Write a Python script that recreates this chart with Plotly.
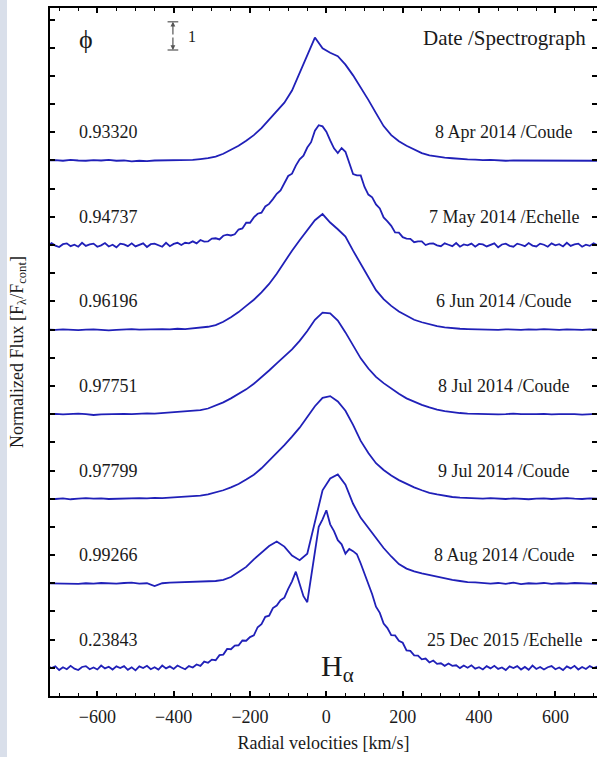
import plotly.graph_objects as go

# ---------------- data ----------------
V_COUDE = list(range(-730, 711, 20))     # velocity grid of the Coude spectra [km/s]
V_ECHELLE = list(range(-740, 721, 10))   # velocity grid of the Echelle spectra [km/s]

PHASES = ["0.93320", "0.94737", "0.96196", "0.97751", "0.97799", "0.99266", "0.23843"]
DATES = ["8 Apr 2014 /Coude", "7 May 2014 /Echelle", "6 Jun 2014 /Coude",
         "8 Jul 2014 /Coude", "9 Jul 2014 /Coude", "8 Aug 2014 /Coude",
         "25 Dec 2015 /Echelle"]
OFFSETS = [18, 15, 12, 9, 6, 3, 0]

FLUX_APR08 = [
    1.00, 1.01, 0.99, 1.02, 1.00, 0.99, 1.01, 1.00, 1.02, 0.99, 1.00, 0.97, 0.99, 0.98, 1.00, 1.00,
    1.01, 1.01, 1.02, 1.02, 1.05,
    1.08, 1.14, 1.24, 1.38, 1.52, 1.70, 1.90, 2.15, 2.45, 2.72, 3.05, 3.48, 4.12, 4.78, 5.36, 4.98,
    4.82, 4.70, 4.40, 4.02, 3.60, 3.15, 2.68, 2.22, 1.90, 1.68, 1.52, 1.38, 1.26, 1.18, 1.13, 1.10,
    1.08, 1.05, 1.04, 1.03, 1.01, 1.02, 1.00, 0.99, 1.00, 1.00, 1.01, 0.99, 1.00, 1.01, 0.99, 1.00,
    1.01, 0.99, 1.00, 0.99]

FLUX_MAY07 = [
    1.04, 0.95, 1.07, 0.98, 0.93, 1.03, 1.06, 0.96, 1.01, 0.94, 1.08, 0.97, 1.02, 1.05, 0.94, 0.99,
    1.07, 0.95, 1.01, 0.92, 1.05, 1.02, 0.96, 1.06, 0.95, 1.00, 1.06, 0.93, 1.03, 1.05, 0.98, 0.94,
    1.08, 0.96, 1.04, 1.08, 1.00, 1.08, 1.06, 1.13, 1.06, 1.18, 1.12, 1.13, 1.23, 1.24, 1.20, 1.33,
    1.37, 1.34, 1.38, 1.55, 1.59, 1.79, 1.79, 1.98, 2.11, 2.15, 2.37, 2.46, 2.63, 2.82, 2.94, 3.17,
    3.45, 3.53, 3.82, 4.04, 4.17, 4.46, 4.65, 5.06, 5.25, 5.21, 5.02, 4.71, 4.43, 4.26, 4.44, 4.31,
    3.93, 3.52, 3.47, 3.47, 3.06, 2.79, 2.69, 2.44, 2.30, 1.98, 1.84, 1.68, 1.45, 1.44, 1.28, 1.23,
    1.22, 1.10, 1.13, 1.13, 1.00, 1.05, 1.06, 0.99, 0.96, 1.06, 1.01, 0.96, 1.07, 0.94, 1.02, 0.99,
    1.05, 0.94, 1.04, 1.02, 0.95, 1.01, 1.06, 0.92, 1.02, 1.05, 0.97, 0.94, 1.05, 1.01, 0.96, 1.07,
    0.98, 0.95, 1.05, 1.01, 0.94, 1.06, 0.99, 1.03, 0.95, 1.08, 0.97, 1.02, 1.05, 0.94, 1.01, 0.97,
    1.06, 0.99, 1.03]

FLUX_JUN06 = [
    1.00, 0.99, 1.01, 1.00, 0.98, 1.00, 1.01, 0.99, 0.97, 0.99, 1.01, 1.02, 1.00, 1.01, 1.00, 1.02,
    1.01, 1.03, 1.02, 1.04, 1.06,
    1.10, 1.16, 1.28, 1.44, 1.62, 1.84, 2.06, 2.32, 2.62, 2.98, 3.40, 3.80, 4.17, 4.52, 4.88, 5.10,
    4.80, 4.56, 4.30, 3.80, 3.34, 2.86, 2.40, 2.08, 1.84, 1.64, 1.48, 1.35, 1.26, 1.18, 1.12, 1.08,
    1.05, 1.03, 1.02, 1.01, 1.02, 1.00, 0.99, 1.01, 1.00, 0.99, 1.01, 1.00, 1.02, 1.00, 0.99, 1.01,
    1.00, 0.99, 1.01, 1.00]

FLUX_JUL08 = [
    1.00, 1.01, 0.99, 1.00, 1.02, 1.00, 0.97, 0.99, 1.00, 1.02, 1.01, 1.00, 1.02, 1.03, 1.02, 1.04,
    1.05, 1.06, 1.08, 1.10, 1.14,
    1.20, 1.30, 1.42, 1.56, 1.72, 1.88, 2.08, 2.30, 2.55, 2.80, 3.05, 3.30, 3.60, 3.95, 4.35, 4.60,
    4.58, 4.32, 3.90, 3.45, 2.98, 2.62, 2.32, 2.10, 1.90, 1.72, 1.56, 1.44, 1.33, 1.24, 1.16, 1.11,
    1.07, 1.04, 1.02, 1.01, 1.00, 1.01, 0.99, 1.00, 1.02, 1.00, 0.99, 1.00, 1.01, 0.99, 1.00, 1.01,
    1.00, 0.98, 1.00, 1.01]

FLUX_JUL09 = [
    1.00, 0.99, 1.01, 0.98, 1.00, 1.02, 1.00, 1.01, 0.99, 1.00, 1.02, 1.01, 1.02, 1.01, 1.03, 1.02,
    1.04, 1.05, 1.06, 1.08, 1.11,
    1.15, 1.22, 1.30, 1.40, 1.52, 1.68, 1.85, 2.08, 2.35, 2.62, 2.90, 3.20, 3.52, 3.90, 4.28, 4.58,
    4.64, 4.45, 4.12, 3.62, 3.05, 2.62, 2.26, 2.02, 1.82, 1.66, 1.52, 1.40, 1.30, 1.21, 1.15, 1.10,
    1.06, 1.04, 1.02, 1.01, 1.00, 1.02, 1.00, 0.99, 1.01, 1.00, 0.98, 1.00, 1.01, 0.99, 1.00, 1.02,
    1.00, 0.99, 1.01, 1.00]

FLUX_AUG08 = [
    1.00, 0.99, 1.00, 0.97, 0.98, 1.00, 0.99, 1.01, 1.00, 0.99, 1.01, 1.02, 0.99, 1.00, 0.90, 1.00,
    1.02, 1.03, 1.02, 1.04, 1.05,
    1.07, 1.08, 1.12, 1.22, 1.40, 1.58, 1.85, 2.10, 2.32, 2.48, 2.30, 1.98, 1.82, 2.05, 3.20, 4.30,
    4.72, 4.86, 4.50, 3.82, 3.32, 2.96, 2.62, 2.25, 1.95, 1.68, 1.52, 1.42, 1.35, 1.29, 1.22, 1.18,
    1.12, 1.08, 1.04, 1.03, 1.00, 0.99, 1.01, 0.98, 1.02, 0.97, 1.00, 0.99, 1.01, 0.98, 1.00, 0.99,
    1.01, 1.00, 0.99, 0.98]

FLUX_DEC25 = [
    0.97, 1.06, 0.99, 1.05, 0.92, 1.02, 0.95, 1.07, 0.97, 0.92, 1.03, 1.06, 0.95, 1.01, 0.94, 1.08,
    0.98, 1.04, 0.94, 1.05, 0.99, 1.06, 0.93, 1.02, 0.91, 1.05, 0.99, 1.07, 0.95, 1.02, 0.94, 1.08,
    0.98, 1.05, 0.96, 1.08, 1.01, 0.95, 1.06, 1.01, 1.12, 1.07, 1.22, 1.18, 1.29, 1.27, 1.45, 1.47,
    1.67, 1.66, 1.79, 1.80, 1.97, 1.96, 2.09, 2.15, 2.44, 2.55, 2.81, 2.85, 3.12, 3.21, 3.40, 3.49,
    3.80, 4.07, 4.41, 3.97, 3.54, 3.33, 4.23, 5.25, 6.00, 6.27, 6.59, 6.09, 5.85, 5.53, 5.38, 5.05,
    5.22, 5.14, 5.03, 4.70, 4.34, 3.92, 3.61, 3.17, 2.95, 2.57, 2.41, 2.16, 2.15, 1.96, 1.89, 1.62,
    1.60, 1.44, 1.43, 1.30, 1.33, 1.19, 1.26, 1.14, 1.16, 1.07, 1.15, 1.07, 1.09, 0.99, 1.08, 1.00,
    1.09, 0.97, 1.02, 0.94, 1.06, 0.98, 1.07, 0.96, 1.01, 0.92, 1.05, 0.99, 1.06, 0.94, 1.03, 0.93,
    1.08, 0.96, 1.03, 0.94, 1.02, 1.06, 0.95, 1.01, 0.92, 1.05, 0.98, 1.07, 0.94, 1.03, 0.96, 1.06,
    0.99, 1.04, 0.95]

SPECTRA = [
    (V_COUDE, FLUX_APR08), (V_ECHELLE, FLUX_MAY07), (V_COUDE, FLUX_JUN06),
    (V_COUDE, FLUX_JUL08), (V_COUDE, FLUX_JUL09), (V_COUDE, FLUX_AUG08),
    (V_ECHELLE, FLUX_DEC25),
]

# ---------------- figure ----------------
SERIF = "Liberation Serif, Times New Roman, serif"
LINE_COLOR = "#2020b8"
TXT = "#1a1a1a"

fig = go.Figure()
for (vel, flux), off in zip(SPECTRA, OFFSETS):
    fig.add_trace(go.Scatter(
        x=vel, y=[f + off for f in flux], mode="lines",
        line=dict(color=LINE_COLOR, width=1.8), showlegend=False, hoverinfo="skip"))

annotations = []
for ph, dt, off in zip(PHASES, DATES, OFFSETS):
    annotations.append(dict(x=-653, y=off + 2, xref="x", yref="y", text=ph, showarrow=False,
                            xanchor="left", yanchor="middle",
                            font=dict(family=SERIF, size=18, color=TXT)))
    annotations.append(dict(x=466, y=off + 2, xref="x", yref="y", text=dt, showarrow=False,
                            xanchor="center", yanchor="middle",
                            font=dict(family=SERIF, size=18, color=TXT)))

annotations += [
    dict(x=-630, y=23.28, xref="x", yref="y", text="ϕ", showarrow=False,
         font=dict(family=SERIF, size=26, color=TXT)),
    dict(x=686, y=23.35, xref="x", yref="y", text="Date /Spectrograph", showarrow=False,
         xanchor="right", font=dict(family=SERIF, size=21, color=TXT)),
    dict(x=-352, y=23.40, xref="x", yref="y", text="1", showarrow=False,
         font=dict(family=SERIF, size=16, color=TXT)),
    dict(x=28, y=1.0, xref="x", yref="y", text="H<sub>α</sub>", showarrow=False,
         font=dict(family=SERIF, size=30, color=TXT)),
    # scale bar arrows (1 flux unit)
    dict(x=-402, y=23.92, ax=-402, ay=23.42, xref="x", yref="y", axref="x", ayref="y",
         text="", showarrow=True, arrowhead=2, arrowsize=0.8, arrowwidth=1.2, arrowcolor="#555"),
    dict(x=-402, y=22.92, ax=-402, ay=23.42, xref="x", yref="y", axref="x", ayref="y",
         text="", showarrow=True, arrowhead=2, arrowsize=0.8, arrowwidth=1.2, arrowcolor="#555"),
]

shapes = [
    dict(type="line", xref="x", yref="y", x0=-416, x1=-388, y0=23.92, y1=23.92,
         line=dict(color="#555", width=1.2)),
    dict(type="line", xref="x", yref="y", x0=-416, x1=-388, y0=22.92, y1=22.92,
         line=dict(color="#555", width=1.2)),
    # light page strip at the left edge
    dict(type="rect", xref="paper", yref="paper", x0=-50 / 547, x1=-43 / 547,
         y0=-61 / 688, y1=1 + 8 / 688, line=dict(width=0), fillcolor="#d9dfea", layer="below"),
]

fig.update_layout(
    width=597, height=757,
    margin=dict(l=50, r=0, t=8, b=61, autoexpand=False),
    paper_bgcolor="white", plot_bgcolor="white",
    annotations=annotations, shapes=shapes,
    xaxis=dict(
        range=[-724, 709], tick0=0, dtick=200, ticks="inside", ticklen=5, tickwidth=1.5,
        tickcolor="black", showline=True, linewidth=2, linecolor="black", mirror="ticks",
        showgrid=False, zeroline=False,
        minor=dict(dtick=50, ticks="inside", ticklen=3, tickwidth=1, tickcolor="black"),
        tickfont=dict(family=SERIF, size=18, color=TXT), ticklabelstandoff=3,
        title=dict(text="Radial velocities [km/s]", standoff=11,
                   font=dict(family=SERIF, size=18, color=TXT)),
    ),
    yaxis=dict(
        range=[0, 24.41], tick0=0, dtick=1, ticks="inside", ticklen=5, tickwidth=1.5,
        tickcolor="black", showline=True, linewidth=2, linecolor="black", mirror="ticks",
        showgrid=False, zeroline=False, showticklabels=False,
        title=dict(text="Normalized Flux [F<sub>λ</sub>/F<sub>cont</sub>]", standoff=20,
                   font=dict(family=SERIF, size=18, color=TXT)),
    ),
)

fig.write_html("out.html", config={"displayModeBar": False},
               post_script="document.body.style.margin='0px';")
